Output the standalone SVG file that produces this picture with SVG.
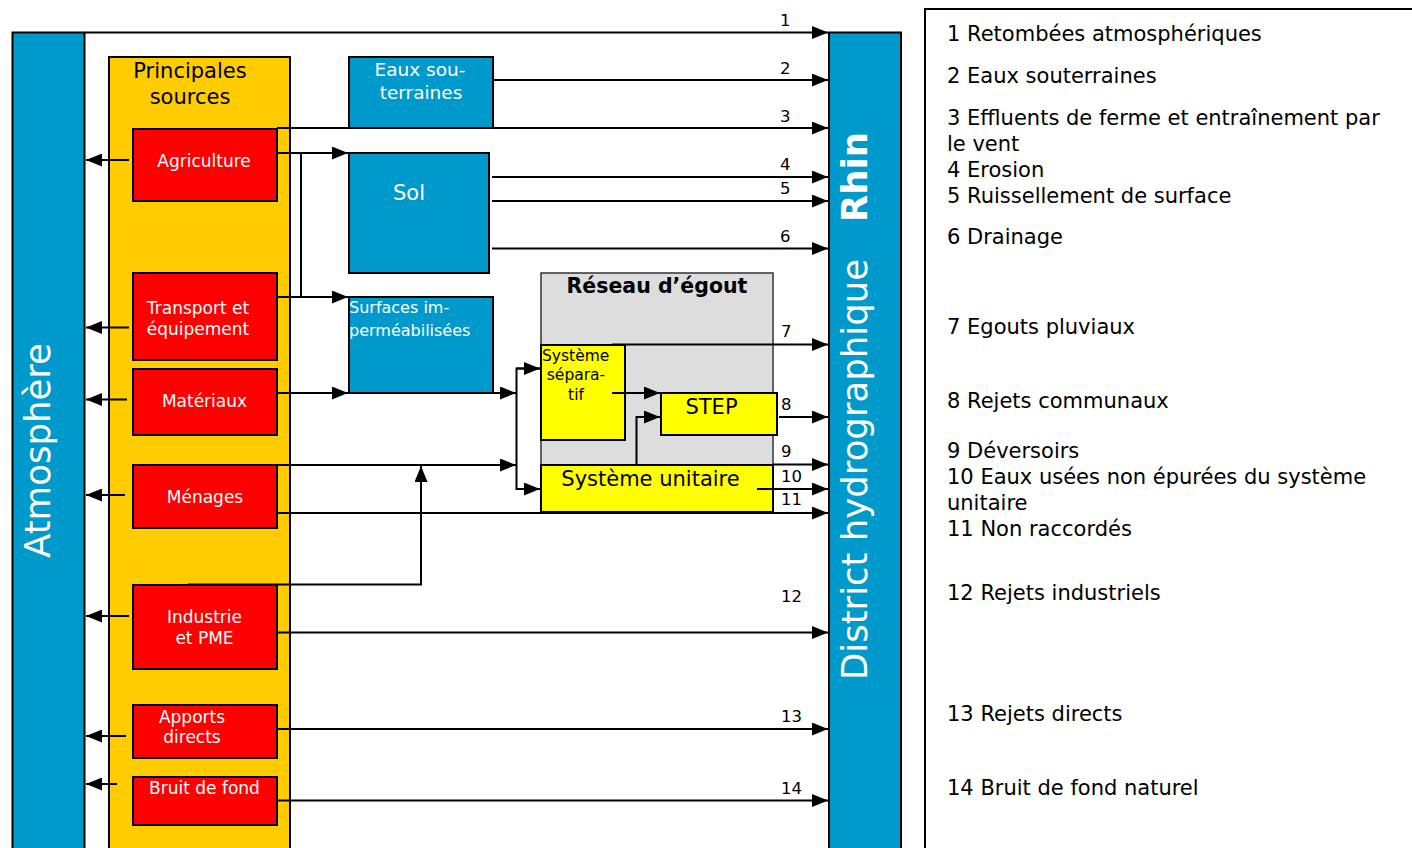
<svg xmlns="http://www.w3.org/2000/svg" width="1412" height="848" viewBox="0 0 1412 848">
<style>
text{font-family:"DejaVu Sans","Liberation Sans",sans-serif}
.bar{fill:#0099CC;stroke:#000;stroke-width:2}
.src{fill:#FF0000;stroke:#000;stroke-width:2}
.blue{fill:#0099CC;stroke:#000;stroke-width:2}
.yel{fill:#FFFF00;stroke:#000;stroke-width:2}
.w{fill:#fff}
.lbl{font-size:17px;fill:#fff;text-anchor:middle}
.num{font-size:16.5px;fill:#000}
.leg{font-size:21px;fill:#000}
.c{fill:none;stroke:#000;stroke-width:2}
.a{fill:none;stroke:#000;stroke-width:2;marker-end:url(#ah)}
</style>
<defs>
<marker id="ah" markerUnits="userSpaceOnUse" markerWidth="17" markerHeight="13" refX="16" refY="6.5" orient="auto">
<path d="M0,0 L16,6.5 L0,13 z" fill="#000"/>
</marker>
</defs>
<rect width="1412" height="848" fill="#fff"/>

<g id="atmosphere">
<rect class="bar" x="12.5" y="32.5" width="72" height="830"/>
<text transform="translate(50,558) rotate(-90)" font-size="35.5" fill="#fff">Atmosphère</text>
</g>

<g id="rhin">
<rect class="bar" x="829" y="32.5" width="72" height="830"/>
<text transform="translate(867,680) rotate(-90)" font-size="35.5" fill="#fff">District hydrographique</text>
<text transform="translate(867,222) rotate(-90)" font-size="35.5" font-weight="bold" fill="#fff">Rhin</text>
</g>

<g id="sources">
<rect x="109" y="57" width="181" height="810" fill="#FFCC00" stroke="#000" stroke-width="2"/>
<text x="190" y="78" font-size="21" text-anchor="middle">Principales</text>
<text x="190" y="104" font-size="21" text-anchor="middle">sources</text>
</g>

<g id="agriculture"><rect class="src" x="133" y="129" width="144" height="72"/><text class="lbl" x="204" y="167">Agriculture</text></g>
<g id="transport"><rect class="src" x="133" y="273" width="144" height="87"/><text class="lbl" x="198" y="314">Transport et</text><text class="lbl" x="198" y="335">équipement</text></g>
<g id="materiaux"><rect class="src" x="133" y="369" width="144" height="66"/><text class="lbl" x="204.5" y="407">Matériaux</text></g>
<g id="menages"><rect class="src" x="133" y="465" width="144" height="63"/><text class="lbl" x="205" y="503">Ménages</text></g>
<g id="industrie"><rect class="src" x="133" y="585" width="144" height="84"/><text class="lbl" x="204.5" y="623">Industrie</text><text class="lbl" x="204.5" y="644">et PME</text></g>
<g id="apports"><rect class="src" x="133" y="705" width="144" height="53"/><text class="lbl" x="192" y="723">Apports</text><text class="lbl" x="192" y="743">directs</text></g>
<g id="bruit"><rect class="src" x="133" y="777" width="144" height="48"/><text class="lbl" x="204.5" y="794">Bruit de fond</text></g>

<g id="eaux-souterraines"><rect class="blue" x="349" y="57" width="144" height="71"/><text x="420" y="76" font-size="18.5" fill="#fff" text-anchor="middle">Eaux sou-</text><text x="421" y="99" font-size="18.5" fill="#fff" text-anchor="middle">terraines</text></g>
<g id="sol"><rect class="blue" x="349" y="153" width="140" height="120"/><text x="409" y="200" font-size="21" fill="#fff" text-anchor="middle">Sol</text></g>
<g id="surfaces"><rect class="blue" x="349" y="297" width="144" height="96"/><text x="349" y="313" font-size="16" fill="#fff">Surfaces im-</text><text x="349" y="336" font-size="16" fill="#fff">perméabilisées</text></g>

<g id="reseau">
<rect x="541" y="273" width="232" height="239" fill="#DDDDDD" stroke="#333" stroke-width="1.5"/>
<text x="657" y="293" font-size="20.5" font-weight="bold" text-anchor="middle">Réseau d’égout</text>
</g>
<g id="separatif"><rect class="yel" x="541" y="345" width="84" height="95"/><text x="542" y="361" font-size="15.5">Système</text><text x="576" y="380" font-size="15.5" text-anchor="middle">sépara-</text><text x="576" y="400" font-size="15.5" text-anchor="middle">tif</text></g>
<g id="step"><rect class="yel" x="661" y="393" width="116" height="42"/><text x="711.5" y="414" font-size="21" text-anchor="middle">STEP</text></g>
<g id="unitaire"><rect class="yel" x="541" y="465" width="232" height="47"/><text x="650.5" y="486" font-size="21" text-anchor="middle">Système unitaire</text></g>

<g id="connectors">
<!-- to atmosphere -->
<line class="a" x1="129" y1="160" x2="86" y2="160"/>
<line class="a" x1="129" y1="327.5" x2="86" y2="327.5"/>
<line class="a" x1="127" y1="399.5" x2="86" y2="399.5"/>
<line class="a" x1="125" y1="495" x2="86" y2="495"/>
<line class="a" x1="129" y1="616" x2="86" y2="616"/>
<line class="a" x1="126" y1="736" x2="86" y2="736"/>
<line class="a" x1="117" y1="784" x2="86" y2="784"/>
<!-- to Rhin -->
<line class="a" x1="85" y1="32.5" x2="828" y2="32.5"/>
<line class="a" x1="493" y1="80" x2="828" y2="80"/>
<line class="a" x1="277" y1="128" x2="828" y2="128"/>
<line class="a" x1="492" y1="177" x2="828" y2="177"/>
<line class="a" x1="492" y1="201" x2="828" y2="201"/>
<line class="a" x1="492" y1="248.5" x2="828" y2="248.5"/>
<line class="a" x1="612" y1="344.5" x2="828" y2="344.5"/>
<line class="a" x1="779" y1="417" x2="828" y2="417"/>
<line class="a" x1="773" y1="464.5" x2="828" y2="464.5"/>
<line class="a" x1="757" y1="489" x2="828" y2="489"/>
<line class="a" x1="277" y1="513" x2="828" y2="513"/>
<line class="a" x1="277" y1="632.5" x2="828" y2="632.5"/>
<line class="a" x1="277" y1="729" x2="828" y2="729"/>
<line class="a" x1="277" y1="800.5" x2="828" y2="800.5"/>
<!-- agriculture / transport to sol / surfaces -->
<line class="a" x1="277" y1="153" x2="348" y2="153"/>
<line class="c" x1="301" y1="153" x2="301" y2="297"/>
<line class="a" x1="277" y1="297" x2="348" y2="297"/>
<line class="a" x1="277" y1="393" x2="348" y2="393"/>
<!-- surfaces / menages to sewers -->
<line class="a" x1="493" y1="393" x2="516" y2="393"/>
<line class="a" x1="277" y1="465" x2="516" y2="465"/>
<polyline class="c" points="540,368.5 516.5,368.5 516.5,489 540,489"/>
<line class="a" x1="516.5" y1="368.5" x2="540" y2="368.5"/>
<line class="a" x1="516.5" y1="489" x2="540" y2="489"/>
<polyline class="a" points="188,584.5 421,584.5 421,466"/>
<!-- to STEP -->
<line class="a" x1="612" y1="393" x2="660" y2="393"/>
<polyline class="a" points="636.5,465 636.5,417 660,417"/>
</g>

<g id="numbers">
<text class="num" x="780" y="26">1</text>
<text class="num" x="780" y="74">2</text>
<text class="num" x="780" y="122">3</text>
<text class="num" x="780" y="170">4</text>
<text class="num" x="780" y="194">5</text>
<text class="num" x="780" y="242">6</text>
<text class="num" x="781" y="337">7</text>
<text class="num" x="781" y="410">8</text>
<text class="num" x="781" y="457">9</text>
<text class="num" x="781" y="482">10</text>
<text class="num" x="781" y="505">11</text>
<text class="num" x="781" y="602">12</text>
<text class="num" x="781" y="722">13</text>
<text class="num" x="781" y="794">14</text>
</g>

<g id="legend">
<rect x="925" y="9" width="500" height="850" fill="none" stroke="#000" stroke-width="2"/>
<text class="leg" x="947" y="41">1 Retombées atmosphériques</text>
<text class="leg" x="947" y="83">2 Eaux souterraines</text>
<text class="leg" x="947" y="125">3 Effluents de ferme et entraînement par</text>
<text class="leg" x="947" y="151">le vent</text>
<text class="leg" x="947" y="177">4 Erosion</text>
<text class="leg" x="947" y="203">5 Ruissellement de surface</text>
<text class="leg" x="947" y="244">6 Drainage</text>
<text class="leg" x="947" y="334">7 Egouts pluviaux</text>
<text class="leg" x="947" y="408">8 Rejets communaux</text>
<text class="leg" x="947" y="458">9 Déversoirs</text>
<text class="leg" x="947" y="484">10 Eaux usées non épurées du système</text>
<text class="leg" x="947" y="510">unitaire</text>
<text class="leg" x="947" y="536">11 Non raccordés</text>
<text class="leg" x="947" y="600">12 Rejets industriels</text>
<text class="leg" x="947" y="721">13 Rejets directs</text>
<text class="leg" x="947" y="795">14 Bruit de fond naturel</text>
</g>
</svg>
